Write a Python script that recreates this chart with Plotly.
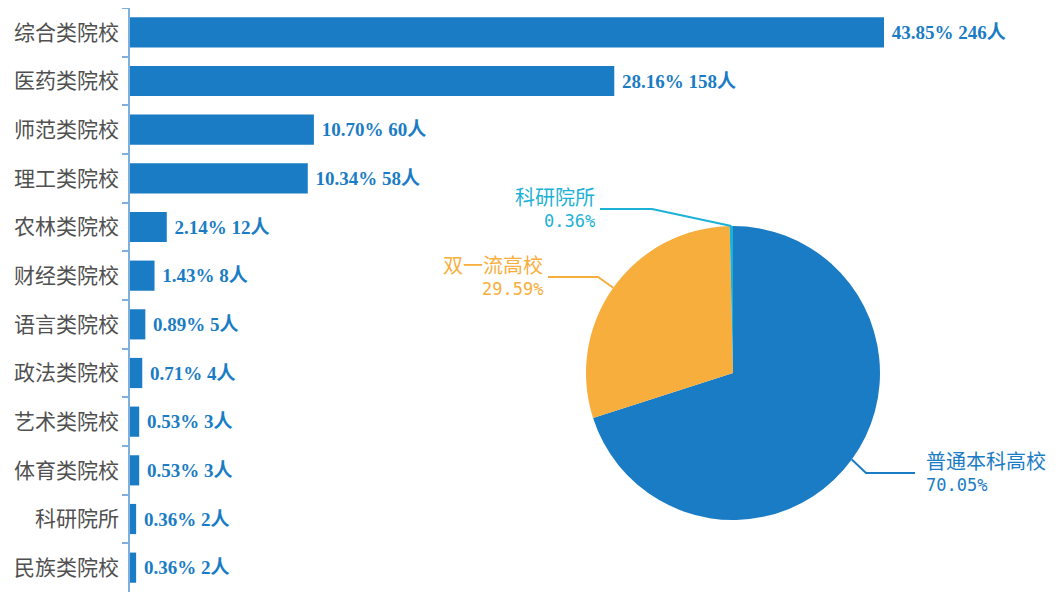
import math
import plotly.graph_objects as go

# ---------------- data ----------------
categories = ["综合类院校", "医药类院校", "师范类院校", "理工类院校", "农林类院校", "财经类院校",
              "语言类院校", "政法类院校", "艺术类院校", "体育类院校", "科研院所", "民族类院校"]
counts = [246, 158, 60, 58, 12, 8, 5, 4, 3, 3, 2, 2]

pie_labels = ["普通本科高校", "双一流高校", "科研院所"]
pie_values = [70.05, 29.59, 0.36]

# ---------------- style ----------------
BLUE = "#1a7cc4"
ORANGE = "#f8ae3c"
CYAN = "#1cb1d6"
pie_colors = [BLUE, ORANGE, CYAN]
W, H = 1059, 592
OFF = 8  # page offset of the plot div (body margin)


def px(x):
    return (x - OFF) / W


def py(y):
    return 1 - (y - OFF) / H


total = sum(counts)
bar_text = [f" {c / total * 100:.2f}% {c}人" for c in counts]

fig = go.Figure()
fig.add_trace(go.Bar(
    x=counts, y=categories, orientation="h",
    marker=dict(color=BLUE, line=dict(width=0)),
    text=bar_text, textposition="outside", cliponaxis=False,
    textfont=dict(family="Liberation Serif, Noto Sans CJK SC", size=19, color=BLUE, weight="bold"),
    xaxis="x", yaxis="y", showlegend=False, hoverinfo="skip",
))

# pie geometry (screen pixels)
cx, cy, R = 733, 373, 147
fig.add_trace(go.Pie(
    labels=pie_labels, values=pie_values, sort=False, direction="clockwise", rotation=0,
    marker=dict(colors=pie_colors, line=dict(width=0)),
    textinfo="none", hoverinfo="skip", showlegend=False,
    domain=dict(x=[px(cx - R), px(cx + R)], y=[py(cy + R), py(cy - R)]),
))

label_style = {
    "普通本科高校": dict(elbow=(866, 473), end=(915, 473), side="left"),
    "双一流高校": dict(elbow=(598, 277), end=(548, 277), side="right"),
    "科研院所": dict(elbow=(652, 209), end=(600, 209), side="right"),
}
ptotal = sum(pie_values)
cum = 0.0
shapes = []
annotations = []
for lab, val, col in zip(pie_labels, pie_values, pie_colors):
    mid = (cum + val / 2) / ptotal * 2 * math.pi
    cum += val
    ex, ey = cx + R * math.sin(mid), cy - R * math.cos(mid)
    st = label_style[lab]
    (bx, by), (tx, ty) = st["elbow"], st["end"]
    path = f"M {px(ex)} {py(ey)} L {px(bx)} {py(by)} L {px(tx)} {py(ty)}"
    shapes.append(dict(type="path", path=path, xref="paper", yref="paper",
                       line=dict(color=col, width=2)))
    if st["side"] == "right":
        ax, anchor = px(tx - 3), "right"
    else:
        ax, anchor = px(tx + 9), "left"
    annotations.append(dict(x=ax, y=py(ty - 13), xref="paper", yref="paper",
                            xanchor=anchor, yanchor="middle", showarrow=False, text=lab,
                            font=dict(family="Noto Sans CJK SC", size=20, color=col)))
    annotations.append(dict(x=ax, y=py(ty + 12), xref="paper", yref="paper",
                            xanchor=anchor, yanchor="middle", showarrow=False, text=f"{val:.2f}%",
                            font=dict(family="DejaVu Sans Mono", size=17, color=col)))

axis_left = 130
fig.update_layout(
    width=W, height=H, margin=dict(l=0, r=0, t=0, b=0),
    paper_bgcolor="white", plot_bgcolor="white",
    bargap=0.38,
    xaxis=dict(domain=[px(axis_left), 1], range=[0, (W + OFF - axis_left) / 3.065],
               visible=False, fixedrange=True),
    yaxis=dict(domain=[py(592), py(8)], autorange="reversed", type="category",
               showline=True, linecolor="#7fb0dd", linewidth=1.5,
               ticks="outside", ticklen=6, tickcolor="#7fb0dd", tickwidth=1.5,
               tickson="boundaries", showgrid=False, zeroline=False,
               ticklabelstandoff=5,
               tickfont=dict(family="Noto Sans CJK SC", size=21, color="#505050")),
    shapes=shapes, annotations=annotations,
)

fig.write_html("out.html")
